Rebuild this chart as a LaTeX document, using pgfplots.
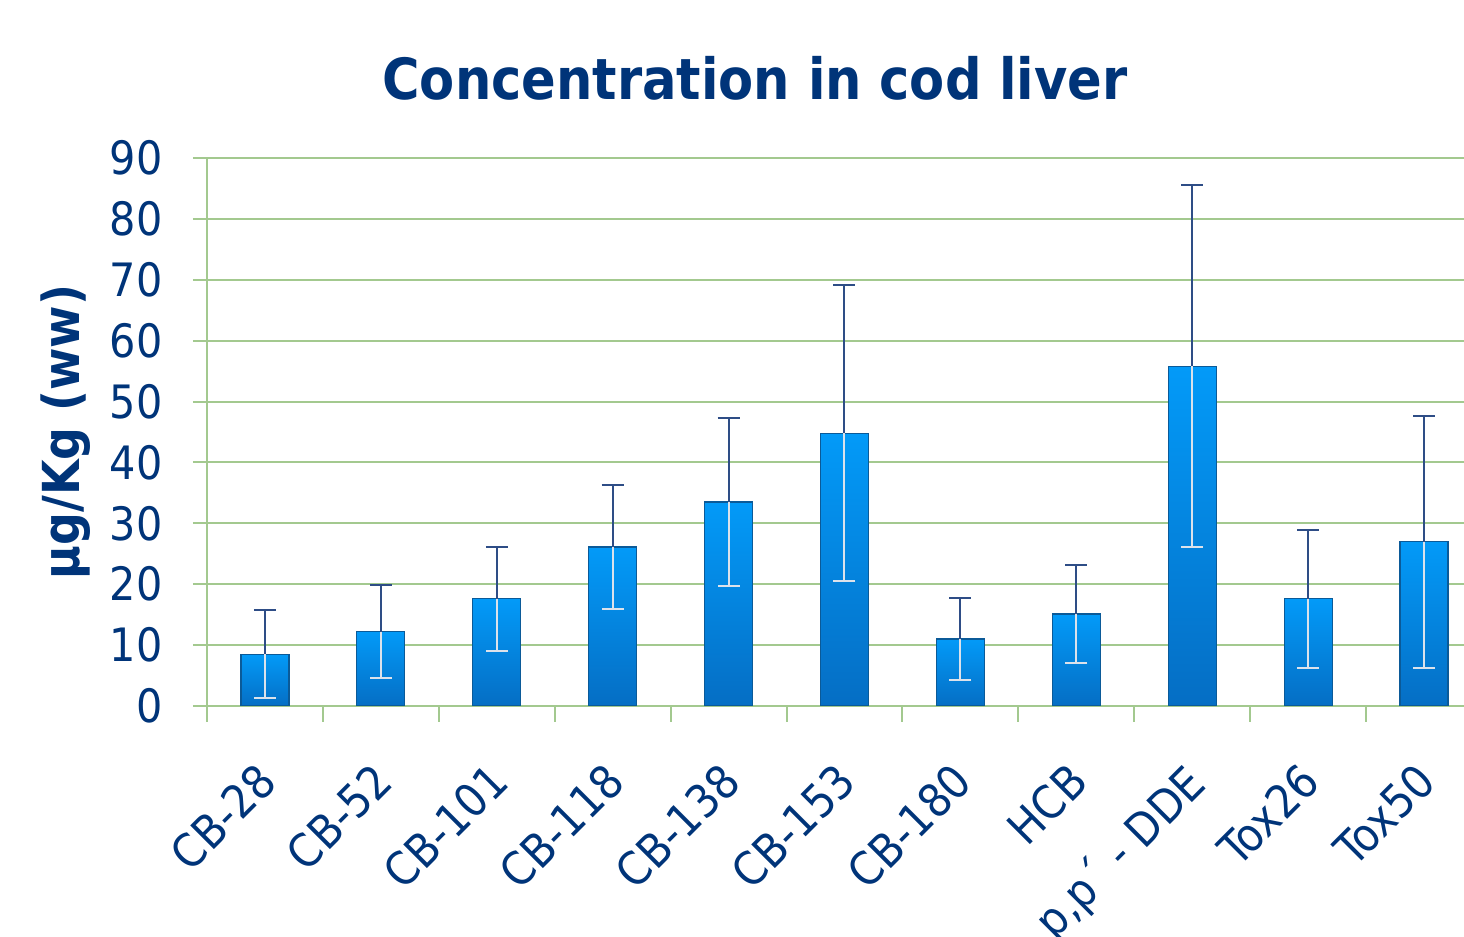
\documentclass[border=0pt]{standalone}
\usepackage{fontspec}
\setmainfont{DejaVu Sans Condensed}
\usepackage{pgfplots}
\usepackage{pgfplotstable}
\pgfplotsset{compat=1.18}
\definecolor{navy}{HTML}{003479}
\definecolor{gridg}{HTML}{A3C98F}
\definecolor{blTop}{HTML}{039AF8}
\definecolor{blBot}{HTML}{056EC4}
\definecolor{barb}{HTML}{0B5A98}
\definecolor{errd}{HTML}{2E4D86}
\definecolor{errl}{HTML}{DCE2EB}
\pgfplotstableread{
x y e
0 8.5 7.2
1 12.2 7.6
2 17.6 8.5
3 26.1 10.2
4 33.5 13.8
5 44.8 24.3
6 11.0 6.7
7 15.1 8.1
8 55.8 29.7
9 17.6 11.3
10 27.0 20.7
}\data
\begin{document}
\begin{tikzpicture}
\begin{axis}[
  at={(0pt,0pt)}, anchor=south west,
  scale only axis, width=628.5pt, height=274pt,
  xmin=-0.5, xmax=10.345, ymin=0, ymax=90,
  axis lines*=left,
  axis line style={draw=gridg, line width=1pt},
  ytick={0,10,...,90},
  ymajorgrids, grid style={draw=gridg, line width=1pt},
  xtick={0,...,10},
  xticklabels={CB-28,CB-52,CB-101,CB-118,CB-138,CB-153,CB-180,HCB,{p,p´ - DDE},Tox26,Tox50},
  minor xtick={-0.5,0.5,...,9.5},
  tick align=outside,
  major tick length=7pt, minor tick length=8pt,
  major x tick style={draw=none},
  minor x tick style={draw=gridg, line width=1pt},
  major y tick style={draw=gridg, line width=1pt},
  /pgf/number format/assume math mode=true,
  tick label style={font=\fontsize{23}{27}\selectfont, text=navy},
  yticklabel style={anchor=east, inner sep=0pt, xshift=-15pt},
  xticklabel style={xshift=-5pt, yshift=-20pt, rotate=45, anchor=north east, inner sep=0pt},
  title={Concentration in cod liver},
  title style={at={(0.436,1.084)}, anchor=base, font=\bfseries\fontsize{28.4}{32}\selectfont, text=navy},
  ylabel={µg/Kg (ww)},
  ylabel style={at={(rel axis cs:-0.1126,0.5)}, anchor=center, font=\bfseries\fontsize{25.5}{29}\selectfont, text=navy},
  mybar/.style={ybar, bar width=24pt, bar shift=0pt, draw=barb, line width=0.6pt, top color=blTop, bottom color=blBot},
]
\addplot[mybar] coordinates {(0,8.5)};
\addplot[mybar] coordinates {(1,12.2)};
\addplot[mybar] coordinates {(2,17.6)};
\addplot[mybar] coordinates {(3,26.1)};
\addplot[mybar] coordinates {(4,33.5)};
\addplot[mybar] coordinates {(5,44.8)};
\addplot[mybar] coordinates {(6,11.0)};
\addplot[mybar] coordinates {(7,15.1)};
\addplot[mybar] coordinates {(8,55.8)};
\addplot[mybar] coordinates {(9,17.6)};
\addplot[mybar] coordinates {(10,27.0)};
\addplot[draw=none, mark=none,
  error bars/.cd, y dir=plus, y explicit,
  error bar style={draw=errd, line width=1pt},
  error mark options={draw=errd, line width=1pt, mark size=5.5pt, rotate=90}]
  table[x=x, y=y, y error=e]{\data};
\addplot[draw=none, mark=none,
  error bars/.cd, y dir=minus, y explicit,
  error bar style={draw=errl, line width=1pt},
  error mark options={draw=errl, line width=1pt, mark size=5.5pt, rotate=90}]
  table[x=x, y=y, y error=e]{\data};
\end{axis}
\pgfresetboundingbox
\path[use as bounding box] (-103.5pt,-115.5pt) rectangle (628.5pt,353pt);
\end{tikzpicture}
\end{document}
